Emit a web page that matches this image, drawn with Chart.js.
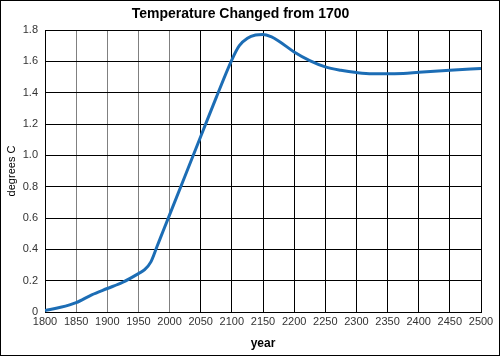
<!DOCTYPE html>
<html>
<head>
<meta charset="utf-8">
<script src="https://cdn.jsdelivr.net/npm/chart.js@4"></script>
<style>
html,body{margin:0;padding:0;background:#fff;}
#wrap{width:500px;height:356px;position:relative;}
</style>
</head>
<body>
<div id="wrap"><canvas id="c" width="500" height="356"></canvas></div>
<script>
const chartTitle = "Temperature Changed from 1700";
const xTitle = "year";
const yTitle = "degrees C";
const years = [1800,1825,1850,1875,1900,1925,1950,1960,1970,1980,1990,2000,2025,2050,2075,2100,2112,2125,2138,2150,2163,2175,2200,2225,2250,2275,2300,2325,2350,2375,2400,2450,2500];
const temps = [0.01,0.03,0.06,0.11,0.15,0.19,0.245,0.27,0.32,0.42,0.52,0.62,0.87,1.12,1.37,1.61,1.70,1.747,1.768,1.772,1.757,1.73,1.66,1.605,1.565,1.543,1.528,1.52,1.52,1.523,1.53,1.543,1.555];
const xMin = 1800, xMax = 2500, xStep = 50;
const yMin = 0, yMax = 1.8, yStep = 0.2;

const points = years.map((y,i)=>({x:y,y:temps[i]}));

const frame = {
  id:'frame',
  beforeDraw(chart){
    const c = chart.ctx;
    c.save();
    c.fillStyle='#fff';
    c.fillRect(0,0,chart.width,chart.height);
    c.restore();
  },
  afterDraw(chart){
    const c = chart.ctx;
    c.save();
    c.strokeStyle='#000';
    c.lineWidth=1;
    c.strokeRect(0.5,0.5,chart.width-1,chart.height-1);
    c.restore();
  }
};

new Chart(document.getElementById('c'),{
  type:'line',
  data:{datasets:[{
    data:points,
    borderColor:'#1c6db5',
    borderWidth:3,
    pointRadius:0,
    cubicInterpolationMode:'monotone',
    fill:false
  }]},
  options:{
    responsive:false,
    animation:false,
    events:[],
    layout:{padding:{left:0,right:19,top:0,bottom:0}},
    plugins:{
      legend:{display:false},
      tooltip:{enabled:false},
      title:{display:true,text:chartTitle,color:'#000',
        font:{family:'"Liberation Sans", Arial, sans-serif',size:14,weight:'bold',lineHeight:1.2},
        padding:{top:6,bottom:7.2}}
    },
    scales:{
      x:{type:'linear',min:xMin,max:xMax,
        afterFit(s){s.height=44;},
        ticks:{stepSize:xStep,color:'#333',padding:3,maxRotation:0,autoSkip:false,
          font:{family:'"Liberation Sans", Arial, sans-serif',size:11},
          callback:v=>String(v)},
        grid:{tickLength:0,lineWidth:1,
          color:ctx=>(ctx.tick && ctx.tick.value>xMin && ctx.tick.value<=2000)?'#808080':'#000'},
        border:{color:'#000',width:1},
        title:{display:true,text:xTitle,color:'#000',padding:{top:0,bottom:5},
          font:{family:'"Liberation Sans", Arial, sans-serif',size:12,weight:'bold',lineHeight:1.2}}
      },
      y:{min:yMin,max:yMax,
        afterFit(s){s.width=45;},
        ticks:{stepSize:yStep,color:'#333',padding:7,
          font:{family:'"Liberation Sans", Arial, sans-serif',size:11}},
        grid:{tickLength:0,color:'#000',lineWidth:1},
        border:{color:'#000',width:1},
        title:{display:true,text:yTitle,color:'#000',padding:{top:5,bottom:0},
          font:{family:'"Liberation Sans", Arial, sans-serif',size:11,lineHeight:1.2}}
      }
    }
  },
  plugins:[frame]
});
</script>
</body>
</html>
